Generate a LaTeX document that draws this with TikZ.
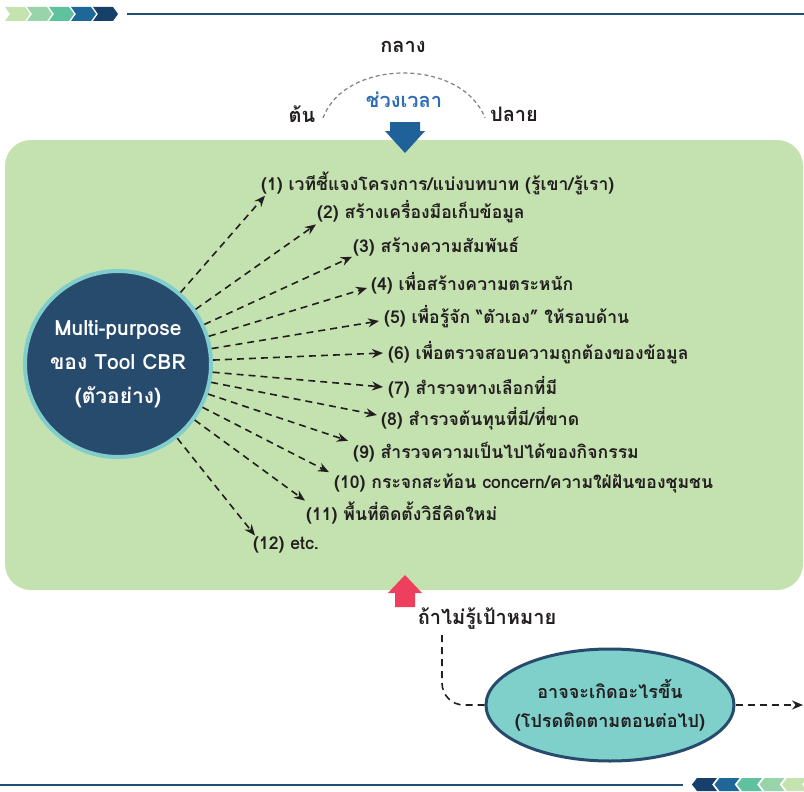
\documentclass[tikz,border=0pt]{standalone}
\usepackage{fontspec}
\newfontfamily\thaifont[Script=Thai]{Loma}
\usetikzlibrary{arrows.meta, positioning, shapes.geometric}

\definecolor{ink}{HTML}{231F20}
\definecolor{boxgreen}{HTML}{C4E1B0}
\definecolor{hubblue}{HTML}{274B6D}
\definecolor{hubring}{HTML}{80CDCB}
\definecolor{outcometeal}{HTML}{7FD0CB}
\definecolor{timeblue}{HTML}{2E6DB4}
\definecolor{downblue}{HTML}{1F6199}
\definecolor{upred}{HTML}{EE3F5F}
\definecolor{rulenavy}{HTML}{1F4E79}
\definecolor{chevA}{HTML}{C5E3AE}
\definecolor{chevB}{HTML}{98D3A9}
\definecolor{chevC}{HTML}{5FC29E}
\definecolor{chevD}{HTML}{1F6699}
\definecolor{chevE}{HTML}{163F69}

\begin{document}
\begin{tikzpicture}[x=1pt,y=-1pt,>={Stealth[length=11pt,width=9pt]},
	purpose/.style={anchor=west, inner sep=1pt, text=ink, font=\thaifont\bfseries\fontsize{17.6}{20}\selectfont},
	caption/.style={inner sep=1pt, text=ink, font=\thaifont\bfseries\fontsize{20}{24}\selectfont},
	hub/.style={circle, minimum size=186pt, inner sep=0pt, fill=hubblue, draw=hubring, line width=4pt, text=white, align=center, font=\thaifont\bfseries\fontsize{21}{34}\selectfont},
	outcome/.style={ellipse, minimum width=248pt, minimum height=112pt, inner xsep=-30pt, inner ysep=0pt, fill=outcometeal, draw=hubblue, line width=3pt, text=ink, align=center, font=\thaifont\bfseries\fontsize{18}{29}\selectfont},
	flow/.style={->, dash pattern=on 7pt off 5pt, line width=1.6pt, draw=ink}]

	\useasboundingbox (0,0) rectangle (804,792);

	% header and footer bands
	\foreach \c [count=\i from 0] in {chevA,chevB,chevC,chevD,chevE}
		\fill [\c] ({5+22*\i},7) -- ++(20,0) -- ++(5,7) -- ++(-5,7) -- ++(-20,0) -- ++(5,-7) -- cycle;
	\draw [rulenavy, line width=1.5pt] (127,14) -- (804,14);
	\foreach \c [count=\i from 0] in {chevE,chevD,chevC,chevB,chevA}
		\fill [\c] ({692+22.5*\i},784.5) -- ++(5,-6.5) -- ++(20,0) -- ++(-5,6.5) -- ++(5,6.5) -- ++(-20,0) -- cycle;
	\draw [rulenavy, line width=1.5pt] (0,785) -- (683,785);

	% time span
	\node (mid) [caption] at (403,47) {กลาง};
	\node (span) [caption, text=timeblue] at (404,100) {ช่วงเวลา};
	\node (start) [caption] at (302,114) {ต้น};
	\node (finish) [caption] at (514,114) {ปลาย};
	\coordinate (arcL) at (323,118);
	\coordinate (arcR) at (485,118);
	\draw [gray, dash pattern=on 4pt off 3pt, line width=1.2pt] (arcL) .. controls (345,58) and (462,58) .. (arcR);

	\fill [boxgreen, rounded corners=26pt] (5,140) rectangle (803,590);
	\fill [downblue] (390,122) -- (420,122) -- (420,131) -- (425,131) -- (405,153) -- (385,131) -- (390,131) -- cycle;
	\fill [upred] (405,575) -- (422,593) -- (415,593) -- (415,607) -- (395,607) -- (395,593) -- (388,593) -- cycle;

	\node (hub) [hub] at (118,364) {Multi-purpose\\ของ Tool CBR\\(ตัวอย่าง)};

	\node (t1) [purpose] at (260,183) {(1) เวทีชี้แจงโครงการ/แบ่งบทบาท (รู้เขา/รู้เรา)};
	\node (t2) [purpose] at (316,212) {(2) สร้างเครื่องมือเก็บข้อมูล};
	\node (t3) [purpose] at (352,247) {(3) สร้างความสัมพันธ์};
	\node (t4) [purpose] at (370,283) {(4) เพื่อสร้างความตระหนัก};
	\node (t5) [purpose] at (383,317) {(5) เพื่อรู้จัก “ตัวเอง” ให้รอบด้าน};
	\node (t6) [purpose] at (387,353) {(6) เพื่อตรวจสอบความถูกต้องของข้อมูล};
	\node (t7) [purpose] at (387,387) {(7) สำรวจทางเลือกที่มี};
	\node (t8) [purpose] at (380,419) {(8) สำรวจต้นทุนที่มี/ที่ขาด};
	\node (t9) [purpose] at (352,452) {(9) สำรวจความเป็นไปได้ของกิจกรรม};
	\node (t10) [purpose] at (333,483) {(10) กระจกสะท้อน concern/ความใฝ่ฝันของชุมชน};
	\node (t11) [purpose] at (305,513) {(11) พื้นที่ติดตั้งวิธีคิดใหม่};
	\node (t12) [purpose] at (252,545) {(12) etc.};

	\path [flow]
	(hub) edge ([xshift=5pt]t1.south west)
	(hub) edge (t2.south west)
	(hub) edge ([yshift=1pt]t3.south west)
	(hub) edge ([xshift=-3pt,yshift=-5pt]t4.west)
	(hub) edge ([xshift=-4pt,yshift=-4pt]t5.west)
	(hub) edge ([xshift=-4pt]t6.west)
	(hub) edge ([xshift=-4pt]t7.west)
	(hub) edge ([xshift=-3pt,yshift=4pt]t8.west)
	(hub) edge ([xshift=-4pt]t9.north west)
	(hub) edge ([xshift=-4pt]t10.north west)
	(hub) edge (t11.north west)
	(hub) edge ([xshift=3pt]t12.north west);

	% what comes next
	\node (ifnot) [caption] at (487,619) {ถ้าไม่รู้เป้าหมาย};
	\node (next) [outcome] at (610,705) {อาจจะเกิดอะไรขึ้น\\(โปรดติดตามตอนต่อไป)};
	\coordinate (exit) at (803,705);
	\draw [dash pattern=on 7pt off 5pt, line width=1.6pt, ink, rounded corners=22pt]
		([xshift=-45pt,yshift=-4pt]ifnot.south) |- (next.west);
	\draw [flow] (next.east) -- (exit);

\end{tikzpicture}
\end{document}
